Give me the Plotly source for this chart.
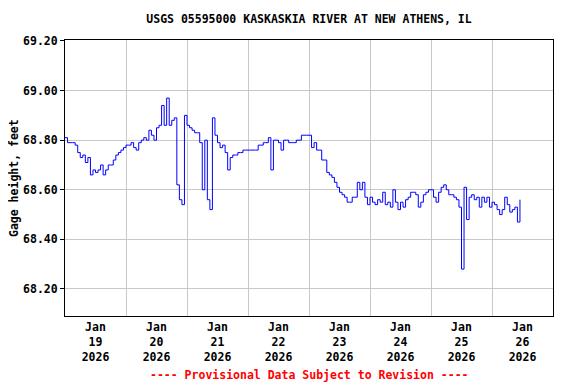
import pandas as pd
import plotly.graph_objects as go

# Hourly gage height readings (feet), starting 2026-01-19 00:00
gage_height = [
    # Jan 19
    68.81, 68.79, 68.79, 68.79, 68.78, 68.75, 68.73, 68.74, 68.71, 68.73, 68.66, 68.68,
    68.67, 68.68, 68.70, 68.66, 68.68, 68.70, 68.70, 68.72, 68.74, 68.75, 68.76, 68.77,
    # Jan 20
    68.78, 68.78, 68.79, 68.77, 68.76, 68.79, 68.80, 68.81, 68.80, 68.84, 68.82, 68.80,
    68.85, 68.86, 68.94, 68.86, 68.97, 68.86, 68.88, 68.89, 68.62, 68.56, 68.54, 68.90,
    # Jan 21
    68.86, 68.85, 68.84, 68.83, 68.83, 68.79, 68.60, 68.80, 68.56, 68.52, 68.89, 68.82,
    68.79, 68.77, 68.78, 68.75, 68.68, 68.73, 68.74, 68.74, 68.75, 68.75, 68.76, 68.76,
    # Jan 22
    68.76, 68.76, 68.76, 68.76, 68.78, 68.78, 68.79, 68.79, 68.81, 68.68, 68.80, 68.80,
    68.79, 68.76, 68.80, 68.80, 68.79, 68.79, 68.79, 68.80, 68.80, 68.82, 68.82, 68.82,
    # Jan 23
    68.82, 68.77, 68.79, 68.76, 68.76, 68.72, 68.72, 68.67, 68.66, 68.65, 68.63, 68.61,
    68.59, 68.58, 68.57, 68.55, 68.55, 68.57, 68.57, 68.63, 68.60, 68.63, 68.57, 68.54,
    # Jan 24
    68.57, 68.55, 68.54, 68.56, 68.55, 68.59, 68.54, 68.55, 68.53, 68.60, 68.55, 68.52,
    68.55, 68.53, 68.56, 68.57, 68.59, 68.59, 68.58, 68.53, 68.55, 68.58, 68.59, 68.60,
    # Jan 25
    68.60, 68.57, 68.55, 68.59, 68.61, 68.62, 68.60, 68.58, 68.58, 68.57, 68.56, 68.53,
    68.28, 68.61, 68.48, 68.57, 68.58, 68.56, 68.57, 68.53, 68.57, 68.55, 68.57, 68.53,
    # Jan 26
    68.55, 68.54, 68.52, 68.50, 68.52, 68.57, 68.54, 68.51, 68.52, 68.53, 68.47, 68.56,
]

start_time = "2026-01-19 00:00"
day_labels = ["19", "20", "21", "22", "23", "24", "25", "26"]
y_ticks = [68.20, 68.40, 68.60, 68.80, 69.00, 69.20]

times = pd.date_range(start_time, periods=len(gage_height), freq="h")
label_pos = [pd.Timestamp(f"2026-01-{d} 12:00") for d in day_labels]
label_text = [f"Jan<br>{d}<br>2026" for d in day_labels]
grid_pos = [pd.Timestamp(f"2026-01-{d} 00:00") for d in day_labels[1:]]

FONT = "DejaVu Sans Mono"
OFF = 8  # the page body adds an 8px offset
W, H = 576 - OFF, 384 - OFF
L, R, T, B = 65 - OFF, 23, 40 - OFF, 68
PW, PH = W - L - R, H - T - B

fig = go.Figure()
fig.add_trace(go.Scatter(
    x=times, y=gage_height, mode="lines",
    line=dict(color="#0000ff", width=1, shape="hv"),
    hoverinfo="skip", showlegend=False,
))

fig.update_layout(
    width=W, height=H,
    margin=dict(l=L, r=R, t=T, b=B, autoexpand=False),
    paper_bgcolor="white", plot_bgcolor="white",
    font=dict(family=FONT, size=11.5, color="black", weight="bold"),
    title=dict(
        text="USGS 05595000 KASKASKIA RIVER AT NEW ATHENS, IL",
        x=(309 - OFF) / W, xanchor="center", y=1 - (19 - OFF) / H, yanchor="middle",
        font=dict(family=FONT, size=11.5, color="black", weight="bold"),
    ),
    annotations=[
        dict(
            text="---- Provisional Data Subject to Revision ----",
            xref="paper", yref="paper", x=0.5, xanchor="center",
            y=-(375 - 316) / PH, yanchor="middle", showarrow=False,
            font=dict(family=FONT, size=11.5, color="#ff0000", weight="bold"),
        ),
        dict(
            text="Gage height, feet", textangle=-90,
            xref="paper", yref="paper",
            x=-(65 - 14) / PW, xanchor="center",
            y=0.5, yanchor="middle", showarrow=False, borderpad=0,
            font=dict(family=FONT, size=11.5, color="black", weight="bold"),
        ),
    ],
)

fig.update_xaxes(
    range=[pd.Timestamp("2026-01-19 00:00"), pd.Timestamp("2026-01-27 00:00")],
    tickmode="array", tickvals=label_pos, ticktext=label_text,
    showgrid=False, ticks="", tickangle=0, automargin=False,
    showline=True, linecolor="black", linewidth=1, mirror=True,
    zeroline=False,
    minor=dict(tickvals=grid_pos, showgrid=True, gridcolor="#c8c8c8", gridwidth=1, ticks=""),
    tickfont=dict(family=FONT, size=11.5, weight="bold"),
)

fig.update_yaxes(
    range=[68.091, 69.204],
    tickmode="array", tickvals=y_ticks, tickformat=".2f",
    showgrid=True, gridcolor="#c8c8c8", gridwidth=1, automargin=False,
    ticks="outside", ticklen=4, tickcolor="black",
    showline=True, linecolor="black", linewidth=1, mirror=True,
    zeroline=False,
    tickfont=dict(family=FONT, size=11.5, weight="bold"),
)

fig.write_html("out.html")
